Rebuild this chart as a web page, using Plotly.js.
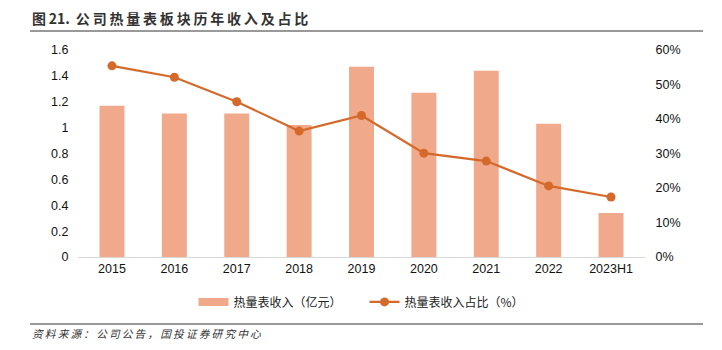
<!DOCTYPE html>
<html><head><meta charset="utf-8">
<script src="https://cdn.plot.ly/plotly-3.0.1.min.js"></script>
<style>html,body{margin:0;padding:0;background:#fff}#chart{width:722px;height:350px}</style>
</head><body><div id="chart"></div>
<script>
const categories = ['2015','2016','2017','2018','2019','2020','2021','2022','2023H1'];
const revenue = [1.17, 1.11, 1.11, 1.02, 1.47, 1.27, 1.44, 1.03, 0.34];
const share = [0.554, 0.521, 0.450, 0.365, 0.410, 0.301, 0.278, 0.206, 0.174];
const leftTicks = [0,0.2,0.4,0.6,0.8,1,1.2,1.4,1.6];
const leftTickText = ['0','0.2','0.4','0.6','0.8','1','1.2','1.4','1.6'];
const rightTicks = [0,0.1,0.2,0.3,0.4,0.5,0.6];
const rightTickText = ['0%','10%','20%','30%','40%','50%','60%'];

const font = 'Liberation Sans, Arial, sans-serif';
const cjk = 'Noto Sans CJK SC, sans-serif';
// add thin spaces between characters, but keep ASCII runs (e.g. "21.") together
const spaced = s => {
  const ch = Array.from(s);
  let out = '';
  for (let i = 0; i < ch.length; i++) {
    out += ch[i];
    if (i < ch.length - 1) {
      const a = ch[i].charCodeAt(0) < 128, b = ch[i+1].charCodeAt(0) < 128;
      if (!(a && b)) out += '\u2009';
    }
  }
  return out;
};

const barColor = '#F0A98A';
const lineColor = '#D4692A';

const traces = [
  {type:'bar', x:categories, y:revenue, name:'热量表收入（亿元）', showlegend:false,
   marker:{color:barColor}, yaxis:'y'},
  // legend proxy (no data) to show a wide bar swatch like the reference
  {type:'scatter', mode:'lines', x:[null], y:[null], name:'热量表收入（亿元）\u3000\u3000',
   line:{color:barColor, width:8}, yaxis:'y', hoverinfo:'skip'},
  {type:'scatter', mode:'lines+markers', x:categories, y:share, name:'热量表收入占比（%）',
   line:{color:lineColor, width:2.2}, marker:{color:lineColor, size:9}, yaxis:'y2'}
];

const layout = {
  width:722, height:350,
  margin:{l:78, r:77, t:50, b:93},
  paper_bgcolor:'#fff', plot_bgcolor:'#fff',
  bargap:0.6,
  showlegend:true,
  legend:{orientation:'h', x:0.5, xanchor:'center', y:-0.217, yanchor:'middle',
    font:{family:cjk, size:12, color:'#222'}, tracegroupgap:0},
  xaxis:{type:'category', categoryarray:categories, showgrid:false, showline:true, linecolor:'#d9d9d9', linewidth:1,
    ticks:'', tickfont:{family:font, size:12.5, color:'#111'}, zeroline:false, fixedrange:true},
  yaxis:{range:[0,1.6], tickvals:leftTicks, ticktext:leftTickText, showgrid:false, zeroline:false,
    showline:false, ticks:'outside', ticklen:6, tickcolor:'rgba(0,0,0,0)',
    tickfont:{family:font, size:12.5, color:'#111'}},
  yaxis2:{range:[0,0.6], overlaying:'y', side:'right', tickvals:rightTicks, ticktext:rightTickText,
    showgrid:false, zeroline:false, showline:false, ticks:'outside', ticklen:7, tickcolor:'rgba(0,0,0,0)',
    tickfont:{family:font, size:12.5, color:'#111'}},
  shapes:[
    {type:'line', xref:'paper', yref:'paper', x0:-0.0847, x1:1.1023, y0:1.0918, y1:1.0918,
     line:{color:'#777', width:1.5}},
    {type:'line', xref:'paper', yref:'paper', x0:-0.0847, x1:1.1023, y0:-0.3237, y1:-0.3237,
     line:{color:'#777', width:1.5}}
  ],
  annotations:[
    {xref:'paper', yref:'paper', x:-0.0847, y:1.155, xanchor:'left', yanchor:'middle', showarrow:false,
     text:'<b>' + spaced('图21. 公司热量表板块历年收入及占比') + '</b>', font:{family:cjk, size:14, color:'#333'}},
    {xref:'paper', yref:'paper', x:-0.0847, y:-0.368, xanchor:'left', yanchor:'middle', showarrow:false,
     text:'<i>' + spaced('资料来源：公司公告，国投证券研究中心') + '</i>', font:{family:cjk, size:10.7, color:'#333'}}
  ]
};

Plotly.newPlot('chart', traces, layout, {displayModeBar:false, staticPlot:true});
</script>
</body></html>
